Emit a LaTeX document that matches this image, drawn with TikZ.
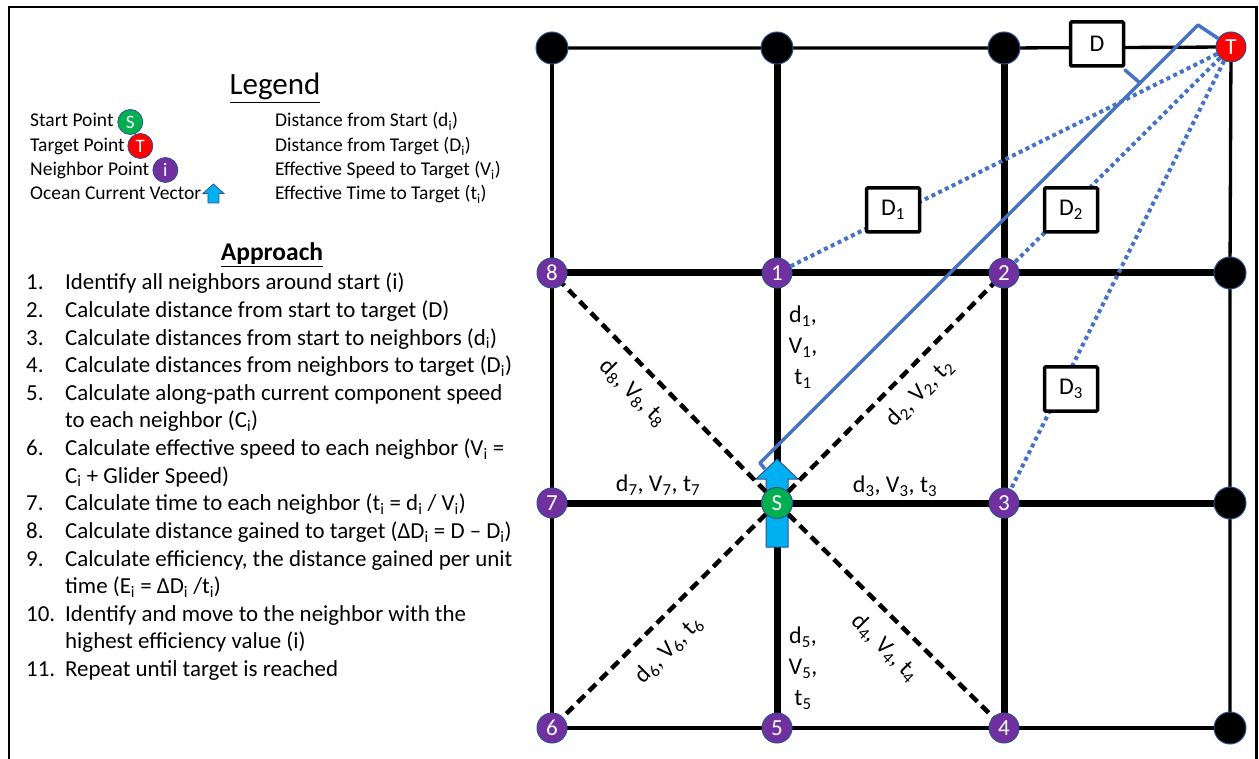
\documentclass[tikz,border=0pt]{standalone}
\usepackage{fontspec}
\setmainfont{Carlito}
\usetikzlibrary{calc}
\definecolor{purp}{HTML}{7030A0}
\definecolor{grn}{HTML}{00B050}
\definecolor{rd}{HTML}{FF0000}
\definecolor{bl}{HTML}{4472C4}
\definecolor{cy}{HTML}{00B0F0}
\definecolor{edgec}{HTML}{2F528F}
\pgfdeclarelayer{gridl}\pgfdeclarelayer{arrowl}\pgfdeclarelayer{dashl}
\pgfsetlayers{gridl,arrowl,dashl,main}
\newcommand\sbs[1]{\textsubscript{#1}}
\begin{document}
\begin{tikzpicture}[x=1pt,y=1pt,
  nb/.style={circle,fill=purp,draw=edgec,line width=1pt,minimum size=30pt,inner sep=0pt,text=white,font=\fontsize{23}{23}\selectfont},
  blk/.style={circle,fill=black,draw=edgec,line width=1pt,minimum size=32pt,inner sep=0pt},
  snode/.style={circle,fill=grn,draw=edgec,line width=1pt,minimum size=31pt,inner sep=0pt,text=white,font=\fontsize{23}{23}\selectfont},
  tnode/.style={circle,fill=rd,draw=edgec,line width=1pt,minimum size=30pt,inner sep=0pt,text=white,font=\fontsize{23}{23}\selectfont},
  lgc/.style={circle,draw=edgec,line width=0.8pt,minimum size=25pt,inner sep=0pt,text=white,font=\fontsize{19}{19}\selectfont},
  thin/.style={line width=3.3pt},
  thick/.style={line width=7pt},
  dashedl/.style={line width=4.5pt,dash pattern=on 10pt off 6pt},
  dotl/.style={bl,line width=4pt,dash pattern=on 4pt off 3.5pt},
  dbox/.style={draw=black,fill=white,line width=3.5pt,rounded corners=1pt,minimum width=53pt,minimum height=44pt,inner sep=0pt,font=\fontsize{24}{24}\selectfont},
  legt/.style={anchor=base west,inner sep=0pt,font=\fontsize{19.5}{23}\selectfont},
  appt/.style={anchor=base west,inner sep=0pt,font=\fontsize{22.9}{27}\selectfont},
  glab/.style={inner sep=0pt,font=\fontsize{24}{31}\selectfont,align=center},
]
\useasboundingbox (0,0) rectangle (1259,-759);
% frame
\draw[line width=2.5pt] (9,-780) -- (9,-7) -- (1256.5,-7) -- (1256.5,-780);

% ---------- legend ----------
\node[anchor=base,inner sep=0pt,font=\fontsize{31}{34}\selectfont] (legtitle) at (275,-95) {\underline{Legend}};
\node[legt] (ls) at (30,-127) {Start Point};
\node[legt] (lt) at (30,-152) {Target Point};
\node[legt] (ln) at (30,-176) {Neighbor Point};
\node[legt] (lo) at (30,-200) {Ocean Current Vector};
\node[lgc,fill=grn] (lsc) at ($(ls.base east)+(16.5,5)$) {S};
\node[lgc,fill=rd] (ltc) at ($(lt.base east)+(15.5,6)$) {T};
\node[lgc,fill=purp] (lnc) at ($(ln.base east)+(16,6)$) {i};
\coordinate (lac) at ($(lo.base east)+(12,6)$);
\draw[fill=cy,draw=edgec,line width=0.8pt] ($(lac)+(0,10)$) -- ++(10.5,-9.5) -- ++(-5,0) -- ++(0,-9.5) -- ++(-11,0) -- ++(0,9.5) -- ++(-5,0) -- cycle;
\node[legt] (ld) at (275,-127) {Distance from Start (d\sbs{i})};
\node[legt] (lD) at (275,-152) {Distance from Target (D\sbs{i})};
\node[legt] (lV) at (275,-176) {Effective Speed to Target (V\sbs{i})};
\node[legt] (lT) at (275,-200) {Effective Time to Target (t\sbs{i})};

% ---------- approach ----------
\node[anchor=base,inner sep=0pt,font=\fontsize{25.5}{28}\selectfont\bfseries] (apptitle) at (272,-261) {\underline{Approach}};
\node[appt] (an1) at (26,-290) {1.};
\node[appt] (at1) at (65,-290) {Identify all neighbors around start (i)};
\node[appt] (an2) at (26,-317.6) {2.};
\node[appt] (at2) at (65,-317.6) {Calculate distance from start to target (D)};
\node[appt] (an3) at (26,-345.2) {3.};
\node[appt] (at3) at (65,-345.2) {Calculate distances from start to neighbors (d\sbs{i})};
\node[appt] (an4) at (26,-372.8) {4.};
\node[appt] (at4) at (65,-372.8) {Calculate distances from neighbors to target (D\sbs{i})};
\node[appt] (an5) at (26,-400.4) {5.};
\node[appt] (at5) at (65,-400.4) {Calculate along-path current component speed};
\node[appt] (at5b) at (65,-428) {to each neighbor (C\sbs{i})};
\node[appt] (an6) at (26,-455.6) {6.};
\node[appt] (at6) at (65,-455.6) {Calculate effective speed to each neighbor (V\sbs{i} =};
\node[appt] (at6b) at (65,-483.2) {C\sbs{i} + Glider Speed)};
\node[appt] (an7) at (26,-510.8) {7.};
\node[appt] (at7) at (65,-510.8) {Calculate time to each neighbor (t\sbs{i} = d\sbs{i} / V\sbs{i})};
\node[appt] (an8) at (26,-538.4) {8.};
\node[appt] (at8) at (65,-538.4) {Calculate distance gained to target (ΔD\sbs{i} = D – D\sbs{i})};
\node[appt] (an9) at (26,-566) {9.};
\node[appt] (at9) at (65,-566) {Calculate efficiency, the distance gained per unit};
\node[appt] (at9b) at (65,-593.6) {time (E\sbs{i} = ΔD\sbs{i} /t\sbs{i})};
\node[appt] (an10) at (26,-621.2) {10.};
\node[appt] (at10) at (65,-621.2) {Identify and move to the neighbor with the};
\node[appt] (at10b) at (65,-648.8) {highest efficiency value (i)};
\node[appt] (an11) at (26,-676.4) {11.};
\node[appt] (at11) at (65,-676.4) {Repeat until target is reached};

% ---------- grid nodes ----------
\node[blk] (b00) at (552,-48) {};
\node[blk] (b01) at (777,-48) {};
\node[blk] (b02) at (1004,-48) {};
\node[tnode] (T) at (1231,-47) {T};
\node[nb] (n8) at (552,-273) {8};
\node[nb] (n1) at (777,-273) {1};
\node[nb] (n2) at (1004,-273) {2};
\node[blk] (b13) at (1230,-273) {};
\node[nb] (n7) at (552,-503) {7};
\node[snode] (S) at (777,-503) {S};
\node[nb] (n3) at (1004,-503) {3};
\node[blk] (b23) at (1230,-503) {};
\node[nb] (n6) at (552,-728) {6};
\node[nb] (n5) at (777,-728) {5};
\node[nb] (n4) at (1004,-728) {4};
\node[blk] (b33) at (1230,-728) {};

\begin{pgfonlayer}{gridl}
\draw[thin] (b00.center) -- (b01.center) -- (b02.center) -- (T.center);
\draw[thin] (n6.center) -- (n5.center) -- (n4.center) -- (b33.center);
\draw[thin] (b00.center) -- (n8.center) -- (n7.center) -- (n6.center);
\draw[thin] (T.center) -- (b13.center) -- (b23.center) -- (b33.center);
\draw[thick] (n8.center) -- (n1.center) -- (n2.center) -- (b13.center);
\draw[thick] (n7.center) -- (S.center) -- (n3.center) -- (b23.center);
\draw[thick] (b01.center) -- (n1.center) -- (S.center) -- (n5.center);
\draw[thick] (b02.center) -- (n2.center) -- (n3.center) -- (n4.center);
\end{pgfonlayer}

\begin{pgfonlayer}{arrowl}
\draw[fill=cy,draw=edgec,line width=1pt] (777,-459) -- (798,-479) -- (788,-479) -- (788,-547) -- (766,-547) -- (766,-479) -- (756,-479) -- cycle;
\end{pgfonlayer}

\begin{pgfonlayer}{dashl}
\draw[dashedl] (S.center) -- (n8.center);
\draw[dashedl] (S.center) -- (n2.center);
\draw[dashedl] (S.center) -- (n4.center);
\draw[dashedl] (S.center) -- (n6.center);
\end{pgfonlayer}

% dotted distances to target
\draw[dotl] (T) -- (n1);
\draw[dotl] (T) -- (n2);
\draw[dotl] (T) -- (n3);

% bracket for D
\coordinate (brA) at (760,-463);
\coordinate (brB) at (1198,-25);
\draw[bl,line width=3.5pt,line join=round] (765,-469) -- (brA) -- (brB) -- (T);
\draw[bl,line width=3.5pt,line cap=round] (1140,-83) -- (1125,-70);

% D boxes
\node[dbox] (Dbox) at (1097,-44) {D};
\node[dbox] (D1) at (893,-210) {D\sbs{1}};
\node[dbox] (D2) at (1071,-210) {D\sbs{2}};
\node[dbox] (D3) at (1071,-389) {D\sbs{3}};

% grid labels
\node[glab] (l1) at (803,-347) {d\sbs{1},\\V\sbs{1},\\t\sbs{1}};
\node[glab] (l5) at (803,-668) {d\sbs{5},\\V\sbs{5},\\t\sbs{5}};
\node[glab] (l7) at (658,-485) {d\sbs{7}, V\sbs{7}, t\sbs{7}};
\node[glab] (l3) at (895,-486) {d\sbs{3}, V\sbs{3}, t\sbs{3}};
\node[glab,rotate=-45] (l8) at (633,-393) {d\sbs{8}, V\sbs{8}, t\sbs{8}};
\node[glab,rotate=45] (l2) at (920,-393) {d\sbs{2}, V\sbs{2}, t\sbs{2}};
\node[glab,rotate=45] (l6) at (669,-650) {d\sbs{6}, V\sbs{6}, t\sbs{6}};
\node[glab,rotate=-45] (l4) at (885,-648) {d\sbs{4}, V\sbs{4}, t\sbs{4}};
\end{tikzpicture}
\end{document}
